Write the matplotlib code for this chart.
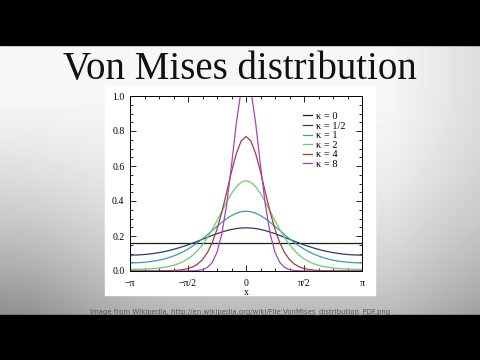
import numpy as np
import matplotlib
matplotlib.use("Agg")
import matplotlib.pyplot as plt
from matplotlib.ticker import MultipleLocator

# ---- data ----
x_values = np.linspace(-np.pi, np.pi, 49)

pdf_k0 = [0.1592] * 49
pdf_k05 = [0.0908, 0.0911, 0.0923, 0.0943, 0.0970, 0.1006, 0.1051, 0.1104, 0.1165, 0.1236,
           0.1315, 0.1402, 0.1496, 0.1597, 0.1703, 0.1812, 0.1921, 0.2029, 0.2131, 0.2225,
           0.2307, 0.2375, 0.2425, 0.2456, 0.2467, 0.2456, 0.2425, 0.2375, 0.2307, 0.2225,
           0.2131, 0.2029, 0.1921, 0.1812, 0.1703, 0.1597, 0.1496, 0.1402, 0.1315, 0.1236,
           0.1165, 0.1104, 0.1051, 0.1006, 0.0970, 0.0943, 0.0923, 0.0911, 0.0908]
pdf_k1 = [0.0462, 0.0466, 0.0479, 0.0499, 0.0529, 0.0569, 0.0620, 0.0684, 0.0762, 0.0857,
          0.0970, 0.1103, 0.1257, 0.1432, 0.1628, 0.1843, 0.2073, 0.2311, 0.2549, 0.2779,
          0.2989, 0.3167, 0.3303, 0.3388, 0.3417, 0.3388, 0.3303, 0.3167, 0.2989, 0.2779,
          0.2549, 0.2311, 0.2073, 0.1843, 0.1628, 0.1432, 0.1257, 0.1103, 0.0970, 0.0857,
          0.0762, 0.0684, 0.0620, 0.0569, 0.0529, 0.0499, 0.0479, 0.0466, 0.0462]
pdf_k2 = [0.0095, 0.0096, 0.0101, 0.0110, 0.0124, 0.0143, 0.0170, 0.0207, 0.0257, 0.0325,
          0.0416, 0.0538, 0.0698, 0.0907, 0.1172, 0.1501, 0.1898, 0.2359, 0.2872, 0.3413,
          0.3946, 0.4430, 0.4819, 0.5071, 0.5159, 0.5071, 0.4819, 0.4430, 0.3946, 0.3413,
          0.2872, 0.2359, 0.1898, 0.1501, 0.1172, 0.0907, 0.0698, 0.0538, 0.0416, 0.0325,
          0.0257, 0.0207, 0.0170, 0.0143, 0.0124, 0.0110, 0.0101, 0.0096, 0.0095]
pdf_k4 = [0.0003, 0.0003, 0.0003, 0.0003, 0.0004, 0.0006, 0.0008, 0.0012, 0.0019, 0.0030,
          0.0050, 0.0084, 0.0141, 0.0237, 0.0397, 0.0651, 0.1041, 0.1608, 0.2383, 0.3364,
          0.4499, 0.5671, 0.6709, 0.7430, 0.7689, 0.7430, 0.6709, 0.5671, 0.4499, 0.3364,
          0.2383, 0.1608, 0.1041, 0.0651, 0.0397, 0.0237, 0.0141, 0.0084, 0.0050, 0.0030,
          0.0019, 0.0012, 0.0008, 0.0006, 0.0004, 0.0003, 0.0003, 0.0003, 0.0003]
pdf_k8 = [0.0, 0.0, 0.0, 0.0, 0.0, 0.0, 0.0, 0.0, 0.0, 0.0,
          0.0, 0.0001, 0.0004, 0.0011, 0.0030, 0.0080, 0.0203, 0.0485, 0.1065, 0.2125,
          0.3800, 0.6036, 0.8450, 1.0362, 1.1097, 1.0362, 0.8450, 0.6036, 0.3800, 0.2125,
          0.1065, 0.0485, 0.0203, 0.0080, 0.0030, 0.0011, 0.0004, 0.0001, 0.0,
          0.0, 0.0, 0.0, 0.0, 0.0, 0.0, 0.0, 0.0, 0.0, 0.0]

series = [pdf_k0, pdf_k05, pdf_k1, pdf_k2, pdf_k4, pdf_k8]
labels = ["κ = 0", "κ = 1/2", "κ = 1", "κ = 2", "κ = 4", "κ = 8"]
colors = ["#1a1a1a", "#2c3c6c", "#3a9cac", "#6ccc6c", "#a23c3c", "#b040b8"]

x_tick_pos = [-np.pi, -np.pi / 2, 0, np.pi / 2, np.pi]
x_tick_labels = ["−π", "−π/2", "0", "π/2", "π"]
y_tick_pos = [0.0, 0.2, 0.4, 0.6, 0.8, 1.0]
y_tick_labels = ["0.0", "0.2", "0.4", "0.6", "0.8", "1.0"]

title = "Von Mises distribution"
caption = "Image from Wikipedia, http://en.wikipedia.org/wiki/File:VonMises_distribution_PDF.png"

# ---- figure ----
W, H = 480, 360
fig = plt.figure(figsize=(4.8, 3.6), dpi=100)

# background
bg = fig.add_axes([0, 0, 1, 1])
bg.set_xlim(0, W)
bg.set_ylim(H, 0)
bg.axis("off")
yy, xx = np.mgrid[0:H, 0:W]
base = 0.965 - 0.25 * np.clip((yy - 80) / 240.0, 0, 1) ** 2.0
left_dark = 0.16 * np.exp(-((xx) / 110.0) ** 2) * np.clip((yy - 100) / 200.0, 0, 1)
right_dark = 0.10 * np.clip((xx - 390) / 90.0, 0, 1)
img = np.clip(base - left_dark - right_dark, 0, 1)
bg.imshow(img, cmap="gray", vmin=0, vmax=1, extent=[0, W, H, 0], aspect="auto", zorder=0)
bg.add_patch(plt.Rectangle((0, 0), W, 45, color="black", zorder=1))
bg.add_patch(plt.Rectangle((0, 315), W, 45, color="black", zorder=1))
bg.add_patch(plt.Rectangle((105, 87), 270, 208, color="white", zorder=1))
bg.text(240, 79, title, ha="center", va="baseline", fontsize=28,
        family="Liberation Serif", color="#111111", zorder=2)
bg.text(240, 312, caption, ha="center", va="center", fontsize=5.0,
        color="#555555", zorder=2)

# plot
ax = fig.add_axes([130 / W, (H - 271) / H, 232 / W, (271 - 96) / H])
ax.set_facecolor("white")
for vals, lab, col in zip(series, labels, colors):
    ax.plot(x_values, vals, color=col, lw=0.9, label=lab)

ax.set_xlim(-np.pi, np.pi)
ax.set_ylim(0.0, 1.0)
ax.set_xticks(x_tick_pos)
ax.set_xticklabels(x_tick_labels, family="Liberation Serif", fontsize=7)
ax.set_yticks(y_tick_pos)
ax.set_yticklabels(y_tick_labels, family="Liberation Serif", fontsize=7)
ax.xaxis.set_minor_locator(MultipleLocator(np.pi / 8))
ax.yaxis.set_minor_locator(MultipleLocator(0.05))
ax.tick_params(which="both", direction="in", top=True, right=True, width=0.6)
ax.tick_params(axis="x", which="major", pad=6)
ax.tick_params(axis="y", which="major", pad=4)
ax.tick_params(which="major", length=4)
ax.tick_params(which="minor", length=2)
for s in ax.spines.values():
    s.set_linewidth(0.7)
ax.set_xlabel("x", family="Liberation Serif", fontsize=7, labelpad=0)

leg = ax.legend(loc="upper left", bbox_to_anchor=(0.745, 0.91), frameon=False,
                prop={"family": "Liberation Serif", "size": 7.5},
                handlelength=0.9, handletextpad=0.35, labelspacing=0.03,
                borderaxespad=0, borderpad=0)

fig.savefig("out.png", dpi=100)
